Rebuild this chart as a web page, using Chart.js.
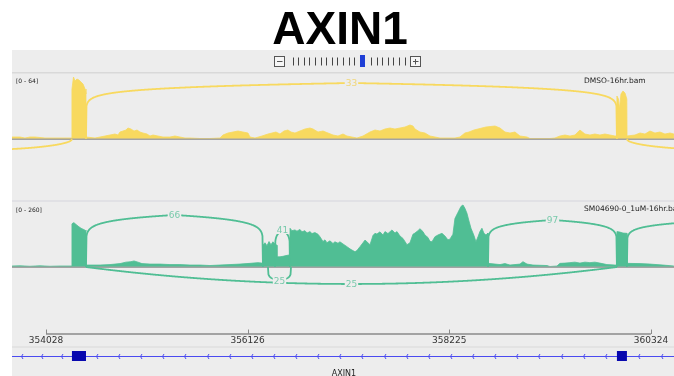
<!DOCTYPE html>
<html><head><meta charset="utf-8">
<script src="https://cdn.jsdelivr.net/npm/chart.js@4/dist/chart.umd.min.js"></script>
<style>html,body{margin:0;padding:0;background:#fff;}canvas{display:block;}</style>
</head><body>
<canvas id="c" width="674" height="376"></canvas>
<script>
// ---------------- data ----------------
const titleText = 'AXIN1';
const geneName = 'AXIN1';
const viewStart = 353674, viewEnd = 360564;
const rulerTicks = [354028, 356126, 358225, 360324];
const exonStarts = [354298, 359970];
const exonEnds = [354444, 360074];
const trackNames = ['DMSO-16hr.bam', 'SM04690-0_1uM-16hr.bam'];
const trackMax = [64, 260];

const dmsoPos = [353674,353757,353809,353861,353913,354017,354121,354226,354297,354298,354314,354330,354350,354371,354392,354413,354434,354444,354445,354538,354590,354642,354694,354746,354777,354798,354829,354860,354881,354912,354944,354975,355006,355037,355079,355110,355141,355193,355245,355318,355370,355422,355474,355526,355630,355734,355838,355870,355922,355974,356026,356078,356130,356151,356203,356276,356338,356380,356421,356463,356505,356546,356578,356619,356671,356723,356775,356807,356859,356911,356963,357015,357067,357119,357160,357212,357264,357327,357400,357452,357504,357556,357608,357660,357712,357764,357816,357847,357868,357920,357972,358024,358076,358128,358180,358232,358284,358336,358388,358430,358482,358524,358565,358607,358701,358753,358805,358857,358909,358961,359034,359065,359169,359273,359325,359377,359429,359481,359533,359585,359637,359689,359741,359793,359845,359897,359949,359969,359970,359986,359996,360012,360033,360054,360073,360075,360158,360210,360262,360314,360366,360418,360470,360522,360563];
const dmsoCov = [2,2,1,2,2,1,1,1,1,50,62,58,60,59,57,55,50,45,2,1,2,3,4,5,4,7,8,9,11,10,8,9,7,6,5,3,4,3,2,2,3,2,1,1,0.5,0.5,1,4,6,7,8,7,6,2,1,3,5,6,7,5,8,9,7,6,8,10,11,10,7,8,6,4,3,5,3,2,1,3,7,9,8,10,11,10,11,12,14,13,10,7,6,3,2,1,1,1,1,2,6,7,9,10,11,12,13,11,7,6,7,3,2,0.5,0.5,0.5,1,3,4,3,4,9,5,4,5,4,5,4,3,3,43,40,30,45,48,46,40,3,4,6,5,8,6,7,5,6,5];

const smPos = [353674,353757,353861,353965,354069,354173,354297,354298,354314,354330,354350,354371,354392,354413,354434,354444,354445,354538,354590,354694,354798,354860,354912,354944,354985,355027,355110,355214,355318,355422,355526,355630,355734,355838,355943,356047,356151,356234,356276,356285,356286,356307,356328,356349,356369,356390,356411,356431,356432,356463,356494,356536,356566,356567,356588,356619,356640,356671,356692,356723,356744,356775,356796,356827,356859,356879,356911,356931,356952,356983,357015,357035,357067,357087,357119,357160,357191,357212,357244,357264,357296,357327,357348,357368,357400,357431,357452,357472,357504,357535,357556,357587,357629,357660,357681,357712,357743,357785,357816,357847,357868,357899,357920,357951,357972,358003,358024,358045,358076,358107,358149,358180,358211,358232,358263,358284,358315,358347,358368,358388,358409,358430,358451,358482,358503,358524,358544,358565,358586,358607,358627,358628,358701,358753,358805,358857,358961,358992,359034,359096,359242,359273,359346,359377,359429,359481,359533,359585,359637,359689,359741,359793,359866,359949,359969,359970,360001,360033,360073,360074,360210,360314,360449,360563];
const smCov = [4,5,3,5,3,4,4,178,183,180,172,166,160,156,152,148,8,8,8,10,14,20,22,25,20,14,12,12,10,10,8,8,6,8,10,12,15,18,16,16,90,100,88,105,92,104,95,90,42,42,44,48,50,160,150,153,148,155,145,150,140,146,138,142,135,125,105,112,100,108,97,104,98,104,95,84,75,70,63,68,84,100,111,104,92,130,139,136,145,132,146,138,153,140,146,128,118,92,100,135,140,150,158,146,132,122,106,104,125,132,139,128,112,115,135,200,225,250,256,242,222,190,160,130,104,125,146,160,139,132,140,15,12,10,14,8,12,22,12,8,6,2,4,15,16,18,20,16,20,18,20,16,10,8,8,146,144,140,139,15,14,12,8,4];

// splice junctions
const dmsoJunctionStart = [352000, 354444, 360074];
const dmsoJunctionEnd   = [354298, 359970, 362400];
const dmsoJunctionCount = [30, 33, 31];
const dmsoJunctionSide  = [-1, 1, -1];
const smJunctionStart = [354444, 356411, 356338, 354444, 358628, 360074];
const smJunctionEnd   = [356286, 356567, 356578, 359970, 359970, 361800];
const smJunctionCount = [66, 41, 25, 25, 97, 90];
const smJunctionSide  = [1, 1, -1, -1, 1, 1];

// ---------------- styles / layout ----------------
const W = 674, H = 376;
const PANEL = '#ededed';
const YELLOW = '#f8d95f', GREEN = '#50be94';
const YELLOW_LABEL = 'rgba(240,205,80,0.75)', GREEN_LABEL = 'rgba(80,190,148,0.75)';
const trackBase = [139, 267], trackTop = [75, 204];
// arc shape styles: height in px, exponents
const dmsoArcStyle = [{h:11.3,p:2,a:0.5},{h:56,p:1,a:0.085},{h:11.3,p:2,a:0.5}];
const smArcStyle = [{h:52,p:1,a:0.1},{h:37,p:1,a:0.12},{h:14,p:1,a:0.2},{h:17,p:2,a:1},{h:47,p:1,a:0.09},{h:46,p:1,a:0.09}];

function yRange(i){
  const ppu = (trackBase[i]-trackTop[i])/trackMax[i];
  return {min: -(H-trackBase[i])/ppu, max: trackBase[i]/ppu};
}
const rA = yRange(0), rB = yRange(1);

function pts(pos, cov){ return pos.map((p,i)=>({x:p, y:cov[i]})); }

function drawArc(ctx, x0, x1, yb, st, dir){
  const w = x1-x0;
  const steps = Math.max(40, Math.ceil(Math.abs(w)*2));
  ctx.beginPath();
  ctx.moveTo(x0, yb);
  for(let i=1;i<steps;i++){
    const u=i/steps, s=Math.abs(2*u-1);
    const f=Math.pow(Math.max(0,1-Math.pow(s,st.p)), st.a);
    ctx.lineTo(x0+u*w, yb - dir*st.h*f);
  }
  ctx.lineTo(x1, yb);
  ctx.stroke();
}

function drawJunctions(chart, starts, ends, counts, sides, styles, axisId, color, labelColor){
  const ctx = chart.ctx, xs = chart.scales.x, ys = chart.scales[axisId];
  const yb = ys.getPixelForValue(0);
  const ca = chart.chartArea;
  ctx.save();
  ctx.beginPath(); ctx.rect(ca.left, ca.top, ca.right-ca.left, ca.bottom-ca.top); ctx.clip();
  ctx.strokeStyle = color; ctx.lineWidth = 1.8; ctx.lineJoin='round';
  for(let i=0;i<starts.length;i++){
    drawArc(ctx, xs.getPixelForValue(starts[i]), xs.getPixelForValue(ends[i]), yb, styles[i], sides[i]);
  }
  ctx.font = '9px "DejaVu Sans", sans-serif';
  ctx.textAlign='center'; ctx.textBaseline='middle';
  for(let i=0;i<starts.length;i++){
    const cx = (xs.getPixelForValue(starts[i])+xs.getPixelForValue(ends[i]))/2;
    const cy = yb - sides[i]*styles[i].h;
    const t = String(counts[i]);
    const tw = ctx.measureText(t).width;
    ctx.fillStyle = PANEL; ctx.fillRect(cx-tw/2-1, cy-4, tw+2, 8);
    ctx.fillStyle = labelColor; ctx.fillText(t, cx, cy+0.5);
  }
  ctx.restore();
}

const igvPlugin = {
  id: 'igv',
  beforeDraw(chart){
    const ctx = chart.ctx;
    ctx.save();
    ctx.fillStyle='#fff'; ctx.fillRect(0,0,W,H);
    ctx.fillStyle=PANEL; ctx.fillRect(12,50,W-12,H-50);
    // separators
    ctx.fillStyle='#d9d9d9'; ctx.fillRect(12,72,W-12,1.5);
    ctx.fillStyle='#d6d6de'; ctx.fillRect(12,200.5,W-12,1);
    ctx.fillStyle='#dadada'; ctx.fillRect(12,346.5,W-12,1);
    // title
    ctx.fillStyle='#000'; ctx.font='bold 46px "Liberation Sans", Arial, sans-serif';
    ctx.textAlign='center'; ctx.textBaseline='alphabetic';
    ctx.fillText(titleText, 340, 43.5);
    // zoom widget
    ctx.strokeStyle='#555'; ctx.lineWidth=1; ctx.fillStyle='#f6f6f6';
    ctx.fillRect(274.5,56.5,10,10); ctx.strokeRect(274.5,56.5,10,10);
    ctx.fillRect(410.5,56.5,10,10); ctx.strokeRect(410.5,56.5,10,10);
    ctx.beginPath();
    ctx.moveTo(277,61.5); ctx.lineTo(282.5,61.5);
    ctx.moveTo(413,61.5); ctx.lineTo(418.5,61.5); ctx.moveTo(415.5,59); ctx.lineTo(415.5,64.5);
    ctx.stroke();
    ctx.strokeStyle='#444';
    ctx.beginPath();
    for(let i=0;i<21;i++){ const x=292.5+i*5.6; if(Math.abs(x-362.5)<3) continue; ctx.moveTo(Math.round(x)+0.5,57.5); ctx.lineTo(Math.round(x)+0.5,65.5);}
    ctx.stroke();
    ctx.fillStyle='#1f3fd6'; ctx.fillRect(360,55,5,12);
    // track labels
    ctx.fillStyle='#222'; ctx.textAlign='left'; ctx.textBaseline='middle';
    ctx.font='6px "DejaVu Sans", sans-serif';
    ctx.fillText('[0 - '+trackMax[0]+']', 16, 81.5);
    ctx.fillText('[0 - '+trackMax[1]+']', 16, 210);
    ctx.font='7.5px "DejaVu Sans", sans-serif';
    ctx.fillText(trackNames[0], 584, 81.5);
    ctx.fillText(trackNames[1], 584, 209.5);
    ctx.restore();
  },
  afterDatasetsDraw(chart){
    const ctx = chart.ctx, xs = chart.scales.x;
    ctx.save();
    // baselines
    ctx.fillStyle='#a3a3a3';
    ['yA','yB'].forEach(id=>{ const y=chart.scales[id].getPixelForValue(0); ctx.fillRect(12,y-0.5,W-12,1.5); });
    ctx.restore();
    drawJunctions(chart, dmsoJunctionStart, dmsoJunctionEnd, dmsoJunctionCount, dmsoJunctionSide, dmsoArcStyle, 'yA', YELLOW, YELLOW_LABEL);
    drawJunctions(chart, smJunctionStart, smJunctionEnd, smJunctionCount, smJunctionSide, smArcStyle, 'yB', GREEN, GREEN_LABEL);
    ctx.save();
    // ruler
    const tx = rulerTicks.map(v=>xs.getPixelForValue(v));
    ctx.strokeStyle='#8a8a8a'; ctx.lineWidth=1.5;
    ctx.beginPath(); ctx.moveTo(tx[0],334); ctx.lineTo(tx[tx.length-1],334); ctx.stroke();
    ctx.lineWidth=1; ctx.beginPath();
    tx.forEach(x=>{ ctx.moveTo(Math.round(x)+0.5,329.5); ctx.lineTo(Math.round(x)+0.5,334); });
    ctx.stroke();
    ctx.fillStyle='#333'; ctx.font='9px "DejaVu Sans", sans-serif'; ctx.textAlign='center'; ctx.textBaseline='middle';
    rulerTicks.forEach((v,i)=>ctx.fillText(String(v), tx[i], 340.5));
    // gene track
    const gy = 356;
    ctx.strokeStyle='#4b4bf0'; ctx.lineWidth=1;
    ctx.beginPath(); ctx.moveTo(12,gy+0.5); ctx.lineTo(W,gy+0.5); ctx.stroke();
    const ex0 = exonStarts.map(v=>xs.getPixelForValue(v)), ex1 = exonEnds.map(v=>xs.getPixelForValue(v));
    // intron chevrons (minus strand)
    const segs = [[12, ex0[0]], [ex1[0], ex0[1]], [ex1[1], W]];
    ctx.beginPath();
    segs.forEach(([a,b])=>{
      const n = Math.max(1, Math.round((b-a)/22.4));
      const step = (b-a)/n;
      for(let k=0;k<n;k++){ const x=Math.round(b-step*(k+0.55))+0.5; if(x<13) continue;
        ctx.moveTo(x+1.5,gy-2); ctx.lineTo(x,gy+0.5); ctx.lineTo(x+1.5,gy+3); }
    });
    ctx.stroke();
    ctx.fillStyle='#0808ae';
    for(let i=0;i<ex0.length;i++) ctx.fillRect(ex0[i], gy-5, ex1[i]-ex0[i], 10);
    ctx.fillStyle='#222'; ctx.font='8px "DejaVu Sans", sans-serif'; ctx.textAlign='center'; ctx.textBaseline='top';
    ctx.fillText(geneName, 344, 369.5);
    ctx.restore();
  }
};

new Chart(document.getElementById('c'), {
  type: 'line',
  data: { datasets: [
    { data: pts(dmsoPos, dmsoCov), yAxisID:'yA', backgroundColor: YELLOW, borderColor: YELLOW, borderWidth: 0.8, fill:'origin', pointRadius:0, tension:0 },
    { data: pts(smPos, smCov), yAxisID:'yB', backgroundColor: GREEN, borderColor: GREEN, borderWidth: 0.8, fill:'origin', pointRadius:0, tension:0 }
  ]},
  options: {
    responsive:false, animation:false, devicePixelRatio:1,
    layout:{padding:{left:12,right:0,top:0,bottom:0}},
    plugins:{legend:{display:false}, tooltip:{enabled:false}, title:{display:false}},
    scales:{
      x:{type:'linear', min:viewStart, max:viewEnd, display:false},
      yA:{type:'linear', min:rA.min, max:rA.max, display:false},
      yB:{type:'linear', min:rB.min, max:rB.max, display:false}
    }
  },
  plugins:[igvPlugin]
});
</script>
</body></html>
